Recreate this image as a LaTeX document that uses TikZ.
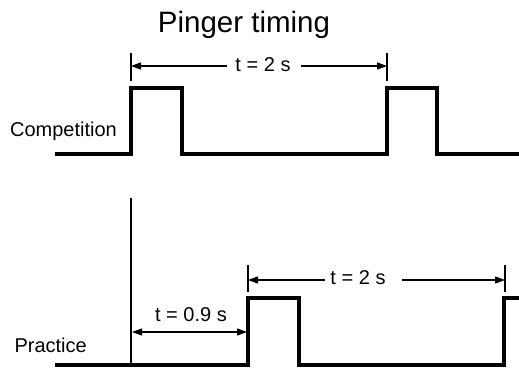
\documentclass[tikz,border=0pt]{standalone}
\usepackage{fontspec}
\setmainfont{Liberation Sans}
\usetikzlibrary{arrows.meta, positioning}

\begin{document}
\begin{tikzpicture}[x=1pt, y=-1pt,
  wave/.style={line width=4pt, line join=miter, line cap=butt},
  tick/.style={line width=1.5pt},
  dim/.style={-{Triangle[length=10pt, width=7pt]}, line width=1.2pt},
  lab/.style={font=\fontsize{20}{23}\selectfont, inner sep=0pt},
  ttl/.style={font=\fontsize{29.5}{33}\selectfont, inner sep=0pt}
]
\useasboundingbox (0,0) rectangle (519,371);

% title and row labels
\node[ttl, anchor=base] (Title) at (244,33) {Pinger timing};
\node[lab, anchor=base east] (Comp) at (117,137) {Competition};
\node[lab, anchor=base east] (Prac) at (87,352) {Practice};

% competition pulses
\coordinate (C1) at (131,154);
\coordinate (C2) at (387,154);
\draw[wave] (55,154) -- (C1) |- (182,88) |- (C2) |- (437,88) |- (519,154);

% practice pulses
\coordinate (P0) at (131,365);
\coordinate (P1) at (248,365);
\coordinate (P2) at (504,365);
\draw[wave] (55,365) -- (P1) |- (299,298) |- (P2) |- (519,298);
\draw[line width=1.3pt] (131,198) -- (P0);

% competition period
\draw[tick] (131,53) coordinate (Ta) -- (131,81);
\draw[tick] (387,53) coordinate (Tb) -- (387,81);
\node[lab] (Tper) at (263,65) {t = 2 s};
\draw[dim] ([xshift=-8pt]Tper.west |- 0,66) -- (Ta |- 0,66);
\draw[dim] ([xshift=10pt]Tper.east |- 0,66) -- (Tb |- 0,66);

% practice delay
\node[lab, anchor=base] (Tdel) at (191,321) {t = 0.9 s};
\draw[{Triangle[length=10pt, width=7pt]}-{Triangle[length=10pt, width=7pt]}, line width=1.2pt]
  (132,332) -- (247,332);

% practice period
\draw[tick] (248,265) coordinate (Pa) -- (248,292);
\draw[tick] (505,265) coordinate (Pb) -- (505,292);
\node[lab] (Pper) at (358,278) {t = 2 s};
\draw[dim] ([xshift=-5pt]Pper.west |- 0,280) -- (Pa |- 0,280);
\draw[dim] ([xshift=16pt]Pper.east |- 0,280) -- (Pb |- 0,280);
\end{tikzpicture}
\end{document}
